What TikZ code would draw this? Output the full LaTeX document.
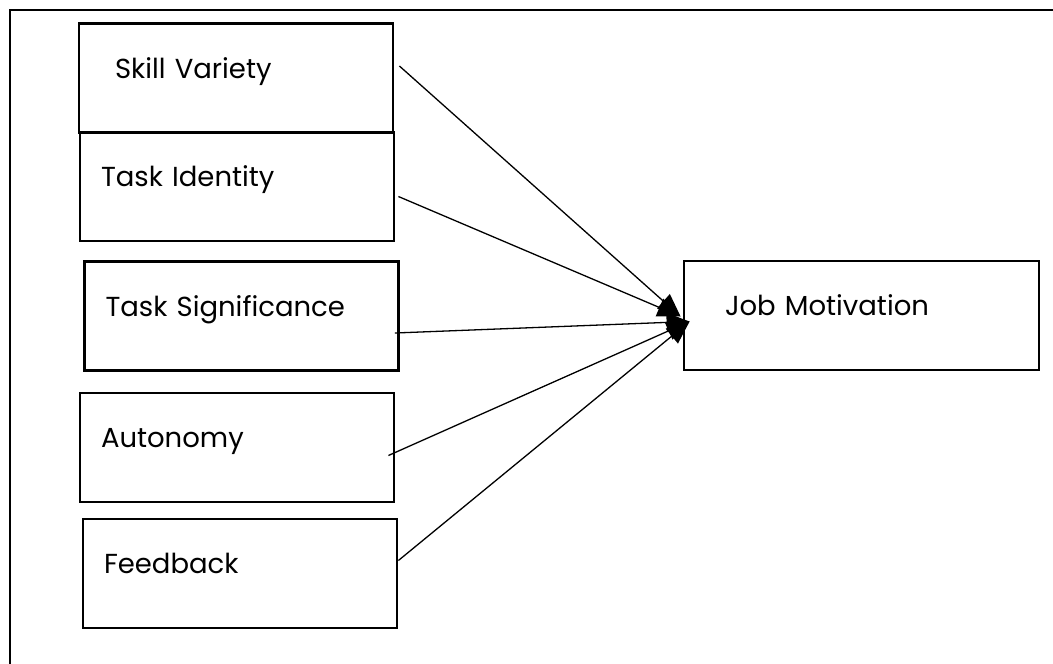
\documentclass[tikz,border=0pt]{standalone}
\usepackage{fontspec}
\setmainfont{Poppins}
\usepackage{tikz}
\usetikzlibrary{arrows.meta, positioning}
\tikzset{
    factor/.style={rectangle, draw, line width=2.8pt, minimum width=314pt, minimum height=109pt, text width=272pt, inner xsep=21pt, align=left, text height=16pt, text depth=16pt, font=\fontsize{27.5}{31}\selectfont},
    outcome/.style={factor, minimum width=355pt, text width=313pt},
    arrow/.style={-{Triangle[length=23pt, width=19pt]}, line width=1.3pt},
    frame/.style={line width=2.5pt}
}
\begin{document}
\begin{tikzpicture}[x=1pt, y=-1pt]
            \useasboundingbox (0,0) rectangle (1053,664);
            \draw[frame] (1053,10) -- (10,10) -- (10,664);

            \node (skill) [factor] at (236,78) {\hspace*{15pt}Skill Variety};
            \node (identity) [factor] at (237,186.5) {Task Identity};
            \node (signif) [factor] at (241.5,316) {Task Significance};
            \node (autonomy) [factor] at (237,447.5) {Autonomy};
            \node (feedback) [factor] at (240,573.5) {Feedback};
            \node (motiv) [outcome] at (861.5,315.5) {\hspace*{20pt}Job Motivation};

            \coordinate (hub) at ([xshift=7pt, yshift=-6pt]motiv.west);
            \coordinate (hubup) at ([xshift=-2pt, yshift=-1pt]motiv.west);
            \draw[arrow] ([xshift=5pt, yshift=12pt]skill.east) -- (hubup);
            \draw[arrow] ([xshift=3pt, yshift=-10pt]identity.east) -- (hubup);
            \draw[arrow] ([xshift=-5pt, yshift=-17pt]signif.east) -- (hub);
            \draw[arrow] ([xshift=-7pt, yshift=-8pt]autonomy.east) -- (hub);
            \draw[arrow] ([xshift=0pt, yshift=13pt]feedback.east) -- (hub);
        \end{tikzpicture}
\end{document}
